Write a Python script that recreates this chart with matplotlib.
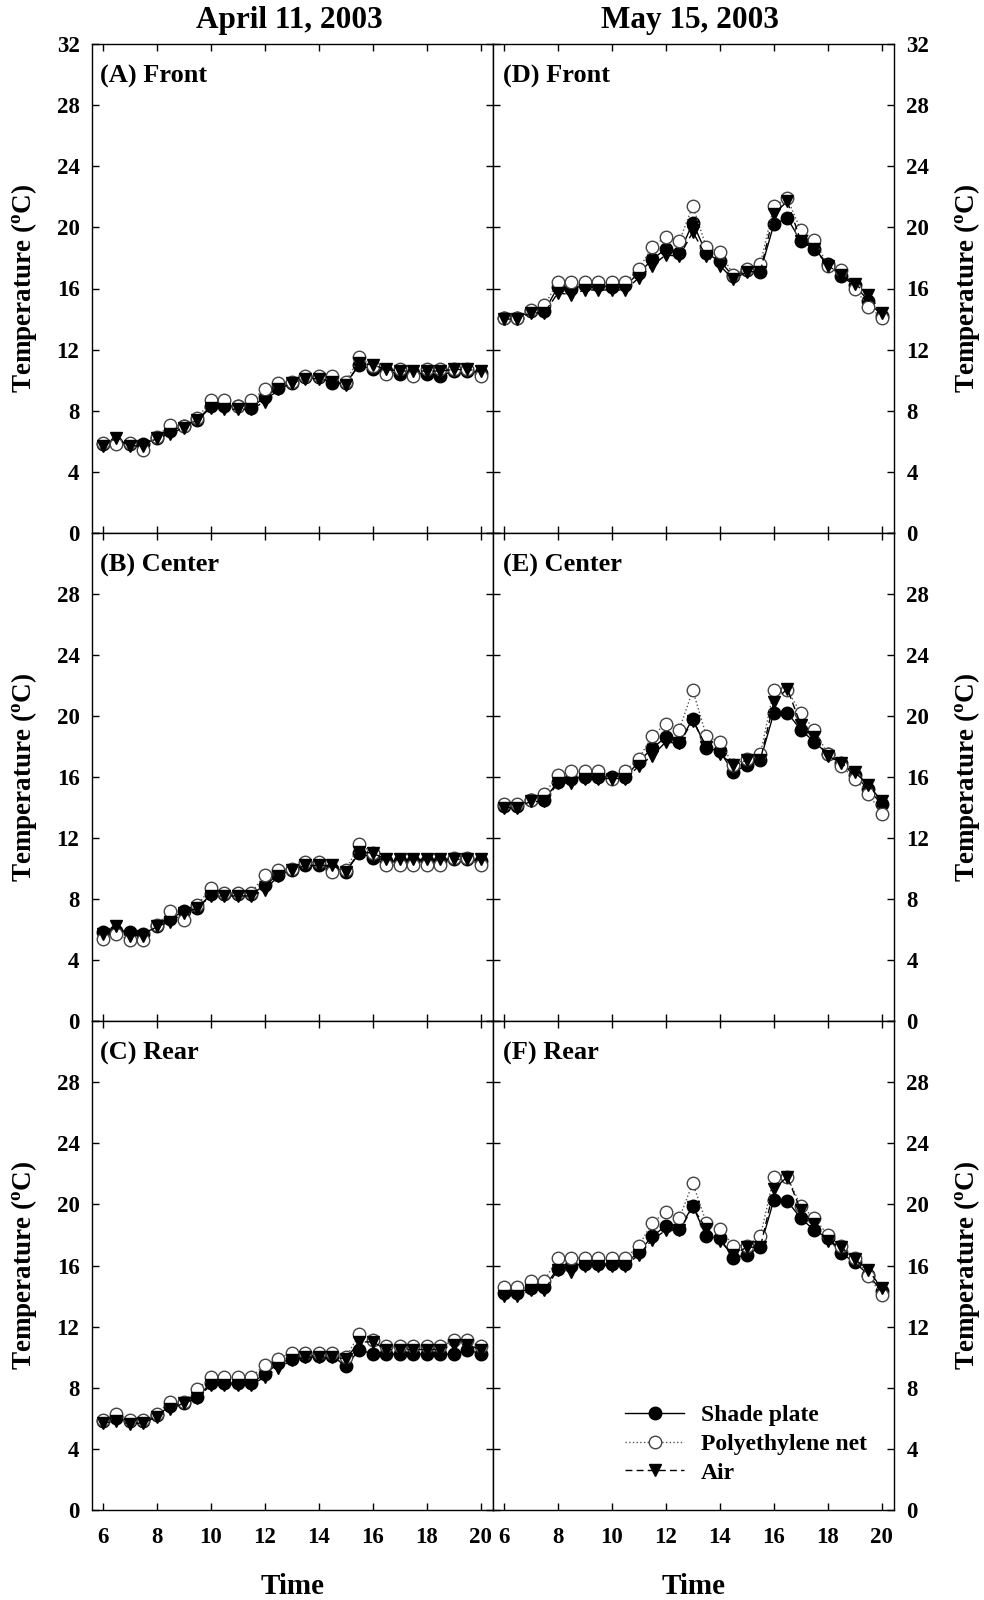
import numpy as np
import matplotlib
matplotlib.use("Agg")
import matplotlib.pyplot as plt
from matplotlib.lines import Line2D

plt.rcParams['font.family'] = ['Liberation Serif', 'DejaVu Serif']
plt.rcParams['font.weight'] = 'bold'
plt.rcParams['mathtext.fontset'] = 'custom'
plt.rcParams['mathtext.rm'] = 'Liberation Serif:bold'
plt.rcParams['mathtext.bf'] = 'Liberation Serif:bold'
plt.rcParams['mathtext.it'] = 'Liberation Serif:bold'

time = [6, 6.5, 7, 7.5, 8, 8.5, 9, 9.5, 10, 10.5, 11, 11.5, 12, 12.5, 13, 13.5,
        14, 14.5, 15, 15.5, 16, 16.5, 17, 17.5, 18, 18.5, 19, 19.5, 20]

# (A) April Front
A_shade = [5.8, 5.9, 5.8, 5.8, 6.2, 6.7, 7.0, 7.4, 8.3, 8.3, 8.3, 8.2, 8.9, 9.5, 9.8, 10.2,
           10.2, 9.8, 9.8, 11.0, 10.7, 10.6, 10.4, 10.5, 10.4, 10.3, 10.6, 10.6, 10.5]
A_poly = [5.9, 5.8, 5.9, 5.4, 6.3, 7.1, 7.0, 7.5, 8.7, 8.7, 8.3, 8.7, 9.4, 9.8, 9.9, 10.3,
          10.3, 10.3, 9.9, 11.5, 10.9, 10.4, 10.7, 10.3, 10.7, 10.7, 10.7, 10.7, 10.3]
A_air = [5.7, 6.2, 5.7, 5.7, 6.2, 6.5, 6.9, 7.4, 8.2, 8.1, 8.1, 8.1, 8.6, 9.4, 9.8, 10.1,
         10.1, 9.9, 9.7, 11.1, 11.0, 10.7, 10.6, 10.6, 10.6, 10.6, 10.7, 10.7, 10.6]

# (B) April Center
B_shade = [5.85, 5.9, 5.85, 5.7, 6.2, 6.7, 7.2, 7.4, 8.3, 8.3, 8.3, 8.3, 8.9, 9.6, 9.9, 10.2,
           10.2, 10.0, 9.8, 11.0, 10.7, 10.5, 10.5, 10.5, 10.5, 10.5, 10.6, 10.6, 10.5]
B_poly = [5.4, 5.7, 5.3, 5.3, 6.3, 7.2, 6.6, 7.6, 8.7, 8.4, 8.4, 8.4, 9.6, 9.9, 10.0, 10.4,
          10.4, 9.8, 9.9, 11.6, 11.0, 10.2, 10.2, 10.2, 10.2, 10.2, 10.7, 10.7, 10.2]
B_air = [5.7, 6.2, 5.6, 5.6, 6.2, 6.5, 7.1, 7.4, 8.2, 8.2, 8.2, 8.2, 8.6, 9.5, 9.9, 10.2,
         10.2, 10.2, 9.8, 11.1, 11.0, 10.6, 10.6, 10.6, 10.6, 10.6, 10.6, 10.6, 10.6]

# (C) April Rear
C_shade = [5.8, 6.0, 5.8, 5.8, 6.2, 6.8, 7.0, 7.4, 8.3, 8.3, 8.3, 8.3, 8.9, 9.6, 9.9, 10.1,
           10.1, 10.1, 9.4, 10.5, 10.2, 10.2, 10.2, 10.2, 10.2, 10.2, 10.2, 10.5, 10.2]
C_poly = [5.9, 6.3, 5.9, 5.9, 6.3, 7.1, 7.1, 7.9, 8.7, 8.7, 8.7, 8.7, 9.5, 9.9, 10.3, 10.3,
          10.3, 10.3, 10.0, 11.5, 11.1, 10.7, 10.7, 10.7, 10.7, 10.7, 11.1, 11.1, 10.7]
C_air = [5.7, 5.8, 5.65, 5.7, 6.1, 6.6, 7.0, 7.3, 8.2, 8.2, 8.2, 8.2, 8.7, 9.3, 9.8, 10.0,
         10.0, 10.0, 9.9, 11.0, 11.0, 10.5, 10.5, 10.5, 10.5, 10.5, 10.8, 10.8, 10.5]

# (D) May Front
D_shade = [14.1, 14.1, 14.5, 14.5, 16.1, 16.0, 16.2, 16.2, 16.1, 16.2, 17.0, 17.9, 18.6, 18.3, 20.3, 18.3,
           17.8, 16.8, 17.2, 17.1, 20.2, 20.6, 19.1, 18.6, 17.6, 16.8, 16.2, 15.2, 14.2]
D_poly = [14.1, 14.1, 14.6, 14.9, 16.4, 16.4, 16.4, 16.4, 16.4, 16.4, 17.3, 18.7, 19.4, 19.1, 21.4, 18.7,
          18.4, 16.9, 17.3, 17.6, 21.4, 21.9, 19.8, 19.2, 17.5, 17.2, 16.0, 14.8, 14.1]
D_air = [14.0, 14.0, 14.4, 14.4, 15.7, 15.6, 15.9, 15.9, 15.9, 15.9, 16.7, 17.5, 18.2, 18.1, 19.7, 18.1,
         17.5, 16.6, 17.1, 17.1, 20.9, 21.7, 19.1, 18.6, 17.5, 16.9, 16.3, 15.6, 14.4]

# (E) May Center
E_shade = [14.1, 14.1, 14.5, 14.5, 15.7, 15.9, 16.0, 16.0, 16.0, 16.0, 17.0, 17.9, 18.6, 18.3, 19.8, 17.9,
           17.7, 16.3, 16.8, 17.1, 20.2, 20.2, 19.1, 18.3, 17.5, 16.9, 16.1, 15.2, 14.2]
E_poly = [14.2, 14.2, 14.5, 14.9, 16.1, 16.4, 16.4, 16.4, 15.9, 16.4, 17.2, 18.7, 19.5, 19.1, 21.7, 18.7,
          18.3, 16.8, 17.2, 17.5, 21.7, 21.7, 20.2, 19.1, 17.5, 16.7, 15.9, 14.9, 13.6]
E_air = [14.0, 14.0, 14.4, 14.4, 15.6, 15.6, 15.9, 15.9, 15.9, 15.9, 16.7, 17.4, 18.3, 18.2, 19.7, 18.0,
         17.5, 16.8, 17.1, 17.1, 20.9, 21.8, 19.4, 18.6, 17.4, 16.9, 16.3, 15.5, 14.4]

# (F) May Rear
F_shade = [14.2, 14.2, 14.5, 14.6, 15.8, 16.0, 16.1, 16.1, 16.1, 16.1, 16.9, 17.9, 18.6, 18.4, 19.9, 17.9,
           17.8, 16.5, 16.7, 17.2, 20.3, 20.2, 19.1, 18.3, 17.8, 16.8, 16.2, 15.4, 14.3]
F_poly = [14.6, 14.6, 15.0, 15.0, 16.5, 16.5, 16.5, 16.5, 16.5, 16.5, 17.3, 18.8, 19.5, 19.1, 21.4, 18.8,
          18.4, 17.3, 17.3, 17.9, 21.8, 21.8, 19.9, 19.1, 18.0, 17.3, 16.5, 15.3, 14.1]
F_air = [14.0, 14.0, 14.4, 14.4, 15.7, 15.6, 16.0, 16.0, 16.0, 16.0, 16.7, 17.7, 18.3, 18.3, 19.8, 18.4,
         17.6, 16.7, 17.2, 17.2, 21.0, 21.8, 19.6, 18.7, 17.6, 17.2, 16.4, 15.7, 14.5]

panel_labels = ["(A) Front", "(B) Center", "(C) Rear", "(D) Front", "(E) Center", "(F) Rear"]
col_titles = ["April 11, 2003", "May 15, 2003"]
series_names = ["Shade plate", "Polyethylene net", "Air"]
xticks = [6, 8, 10, 12, 14, 16, 18, 20]
yticks = [0, 4, 8, 12, 16, 20, 24, 28, 32]

data = [
    (A_shade, A_poly, A_air), (B_shade, B_poly, B_air), (C_shade, C_poly, C_air),
    (D_shade, D_poly, D_air), (E_shade, E_poly, E_air), (F_shade, F_poly, F_air),
]

fig = plt.figure(figsize=(9.84, 16), dpi=100)
W, H = 984.0, 1600.0
col_x = [92 / W, 493 / W]
ax_w = 401 / W
row_top = [44, 533, 1021]
row_bot = [533, 1021, 1510]

TICK_FS = 16.5
YLAB_FS = 19.5
ms = 9
axes = []
for c in range(2):
    for r in range(3):
        idx = c * 3 + r
        y0 = 1 - row_bot[r] / H
        h = (row_bot[r] - row_top[r]) / H
        ax = fig.add_axes([col_x[c], y0, ax_w, h])
        axes.append(ax)
        sh, po, ai = data[idx]
        ax.plot(time, sh, color='black', lw=1.0, ls='-', marker='o', ms=ms,
                mfc='black', mec='black', zorder=3)
        ax.plot(time, po, color='#555555', lw=1.0, ls=':', marker='o', ms=ms,
                mfc='white', mec='#444444', mew=1.0, zorder=4)
        ax.plot(time, ai, color='black', lw=1.0, ls=(0, (5, 3)), marker='v', ms=ms,
                mfc='black', mec='black', zorder=5)
        ax.set_xlim(5.6, 20.45)
        ax.set_ylim(0, 32)
        ax.set_xticks(xticks)
        ax.set_yticks(yticks)
        ylabels = [str(v) for v in yticks]
        if r > 0:
            ylabels[-1] = ''
        ax.set_yticklabels(ylabels)
        ax.tick_params(axis='both', direction='in', length=5, width=1,
                       top=True, bottom=True, left=True, right=True,
                       labelsize=TICK_FS)
        ax.tick_params(axis='x', pad=12)
        if c == 0:
            ax.tick_params(axis='y', labelleft=True, labelright=False, pad=9)
            ax.set_ylabel(r'Temperature ($^{\mathrm{o}}$C)', fontsize=YLAB_FS, fontweight='bold',
                          labelpad=13)
        else:
            ax.tick_params(axis='y', labelleft=False, labelright=True, pad=9)
            ax.yaxis.set_label_position('right')
            ax.set_ylabel(r'Temperature ($^{\mathrm{o}}$C)', fontsize=YLAB_FS, fontweight='bold',
                          labelpad=16, rotation=90)
        if r < 2:
            ax.tick_params(axis='x', labelbottom=False)
        else:
            ax.set_xlabel('Time', fontsize=21, fontweight='bold', labelpad=18)
        for lab in ax.get_xticklabels() + ax.get_yticklabels():
            lab.set_fontweight('bold')
        for sp in ax.spines.values():
            sp.set_linewidth(1.0)
            sp.set_color('black')
        ax.text(0.02 if c == 0 else 0.025, 0.958, panel_labels[idx], transform=ax.transAxes,
                fontsize=19, fontweight='bold', va='top', ha='left')
        if r == 0:
            cx = col_x[c] + ax_w / 2 - 3 / W
            fig.text(cx, 1 - 28 / H, col_titles[c], fontsize=22.5, fontweight='bold',
                     ha='center', va='baseline')

handles = [
    Line2D([], [], color='black', lw=1.0, ls='-', marker='o', ms=ms, mfc='black', mec='black'),
    Line2D([], [], color='#555555', lw=1.0, ls=':', marker='o', ms=ms, mfc='white', mec='#444444'),
    Line2D([], [], color='black', lw=1.0, ls=(0, (5, 3)), marker='v', ms=ms, mfc='black', mec='black'),
]
axes[5].legend(handles, series_names, loc='lower left', bbox_to_anchor=(0.3, 0.03),
               frameon=False, handlelength=2.5, labelspacing=0.3,
               borderpad=0, handletextpad=0.7, prop={'weight': 'bold', 'size': 17})

fig.savefig('out.png', dpi=100)
